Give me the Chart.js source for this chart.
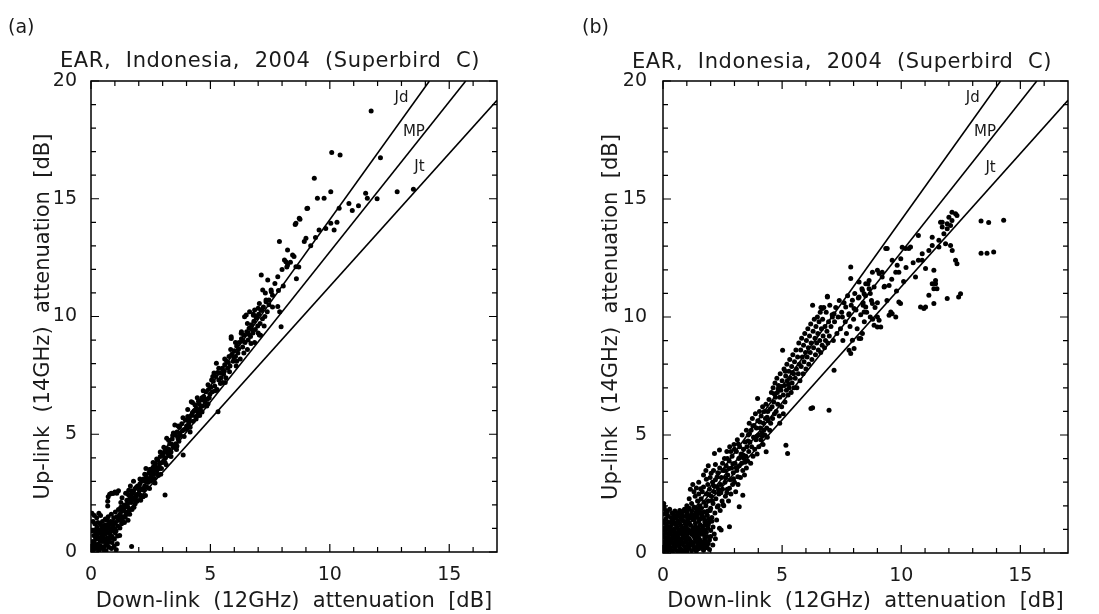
<!DOCTYPE html>
<html>
<head>
<meta charset="utf-8">
<script src="https://cdn.jsdelivr.net/npm/chart.js@4.4.1/dist/chart.umd.min.js"></script>
<style>
    body { margin: 0; background: #fff; width: 1099px; height: 614px; position: relative; overflow: hidden; }
    canvas { position: absolute; top: 0; }
    #chartA { left: 0; }
    #chartB { left: 550px; }
</style>
</head>
<body>
<canvas id="chartA" width="550" height="614"></canvas>
<canvas id="chartB" width="549" height="614"></canvas>
<script>
// EAR rain attenuation scatter, up-link vs down-link (two panels)

const chartTitle = 'EAR,  Indonesia,  2004  (Superbird  C)';
const xTitle = 'Down-link  (12GHz)  attenuation  [dB]';
const yTitle = 'Up-link  (14GHz)  attenuation  [dB]';

const xTickValues = [0, 5, 10, 15];
const yTickValues = [0, 5, 10, 15, 20];
const xMinorValues = [1, 2, 3, 4, 6, 7, 8, 9, 11, 12, 13, 14, 16];
const yMinorValues = [1, 2, 3, 4, 6, 7, 8, 9, 11, 12, 13, 14, 16, 17, 18, 19];

// frequency scaling lines (through origin), end points
const lineNames = ['Jd', 'MP', 'Jt'];
const lineJd = [[0, 0], [14.17, 20]];
const lineMP = [[0, 0], [15.69, 20]];
const lineJt = [[0, 0], [17, 19.18]];
const lineLabelX = [13.0, 13.52, 13.75];
const lineLabelY = [19.27, 17.85, 16.33];

// (a) measured points [down-link dB, up-link dB]
const pointsA = [
    [0.02,0.05],[0.05,0.2],[0.08,0.45],[0.1,0.1],[0.12,0.7],[0.15,0.35],[0.18,0.9],[0.2,0.15],[0.22,0.55],[0.25,1.05],
    [0.28,0.3],[0.3,0.8],[0.32,0.05],[0.35,0.6],[0.38,1.2],[0.4,0.25],[0.42,0.95],[0.45,0.45],[0.48,1.3],[0.5,0.75],
    [0.52,0.1],[0.55,1.0],[0.58,0.5],[0.6,1.4],[0.62,0.3],[0.65,0.85],[0.68,1.15],[0.7,0.6],[0.72,1.5],[0.75,0.2],
    [0.78,1.0],[0.8,1.3],[0.82,0.7],[0.85,1.6],[0.88,0.4],[0.9,1.15],[0.92,0.9],[0.95,1.45],[0.98,0.55],[1.0,1.25],
    [1.02,1.7],[1.05,0.9],[1.08,1.5],[1.1,0.35],[1.12,1.1],[1.15,1.8],[1.18,1.35],[1.2,0.7],[1.22,1.6],[1.25,1.9],
    [1.28,1.2],[1.3,1.75],[0.06,0.9],[0.09,1.3],[0.04,1.65],[0.14,1.55],[0.24,1.45],[0.33,1.65],[0.4,1.55],[0.16,1.2],
    [0.27,0.65],[0.36,0.15],[0.46,0.7],[0.57,0.9],[0.63,0.05],[0.74,0.45],[0.86,0.15],[0.97,0.25],[1.06,0.1],[0.03,0.35],
    [0.11,0.25],[0.19,0.6],[0.29,1.25],[0.39,0.5],[0.49,0.2],[0.59,1.15],[0.69,0.35],[0.79,0.8],[0.89,0.65],[0.99,1.0],
    [0.44,1.1],[0.54,0.45],[0.66,1.35],[0.76,1.2],[0.84,0.95],[0.94,1.2],[1.7,0.23],
    [0.13,0.42],[0.21,0.78],[0.31,0.33],[0.41,0.82],[0.51,0.58],[0.61,0.78],[0.71,1.02],[0.81,0.58],[0.91,1.02],[1.01,0.82],
    [1.11,0.68],[1.21,1.02],[1.33,1.32],[1.43,1.48],[0.34,0.92],[0.64,0.55],[0.87,1.28],[1.14,1.42],[0.23,0.18],[0.56,0.22],
    [0.7,2.15],[0.72,2.35],[0.78,2.45],[0.85,2.5],[0.92,2.48],[1.0,2.55],[1.08,2.5],[1.15,2.6],[0.7,1.95],
    [1.35,1.5],[1.4,2.0],[1.45,1.7],[1.5,2.2],[1.55,1.9],[1.6,2.4],[1.62,1.6],[1.68,2.1],[1.7,2.6],[1.75,2.3],
    [1.8,1.9],[1.85,2.7],[1.88,2.4],[1.92,2.15],[1.95,2.8],[2.0,2.5],[2.05,2.9],[2.08,2.2],[2.12,3.0],[2.15,2.65],
    [2.2,3.1],[2.25,2.8],[2.28,2.4],[2.32,3.2],[2.38,2.95],[2.42,3.35],[2.45,2.7],[2.5,3.5],[2.55,3.1],[2.6,3.6],
    [2.62,3.3],[2.68,2.93],[2.7,3.75],[2.75,3.45],[2.8,3.9],[2.85,3.6],[2.9,4.05],[2.92,3.3],[2.98,3.8],[3.1,2.42],
    [1.25,2.1],[1.3,2.3],[1.45,2.5],[1.2,1.45],[1.4,1.25],[1.55,1.35],[1.65,2.8],[1.78,3.0],[2.3,3.55],[2.18,2.35],
    [1.95,2.45],[1.72,1.8],[1.5,1.6],[2.02,2.75],[2.48,3.0],[2.58,3.35],[2.72,3.6],[2.88,3.75],
    [1.52,2.05],[1.63,2.25],[1.78,2.55],[1.9,2.35],[2.1,2.68],[2.22,2.62],[2.35,3.05],[2.52,3.22],[2.65,3.5],[2.78,3.3],
    [1.37,1.85],[1.58,2.62],[1.82,2.22],[2.03,2.62],[2.27,3.0],[2.44,3.1],[2.66,3.12],[2.83,3.52],[2.95,3.55],[1.47,1.98],
    [1.55,2.45],[1.7,2.45],[1.9,2.75],[2.05,3.1],[2.25,3.3],[2.45,3.5],[2.6,3.8],[2.75,3.95],[2.9,4.25],[1.6,1.75],
    [1.85,2.05],[2.1,2.4],[2.35,2.75],[2.6,3.05],[2.82,3.25],
    [3.0,4.1],[3.05,3.9],[3.1,4.3],[3.15,3.7],[3.17,4.83],[3.2,4.4],[3.25,4.1],[3.3,4.6],[3.35,4.25],[3.4,4.8],
    [3.45,4.45],[3.5,5.0],[3.51,5.39],[3.55,4.6],[3.6,5.1],[3.65,4.8],[3.7,5.3],[3.75,4.95],[3.8,5.45],[3.86,4.12],
    [3.9,5.2],[3.95,5.6],[4.0,5.35],[4.05,5.75],[4.1,5.5],[4.15,5.1],[4.2,6.38],[4.22,5.8],[4.28,5.55],[4.32,6.0],
    [4.38,5.75],[4.42,6.1],[4.48,5.9],[4.52,6.3],[4.58,6.05],[4.62,6.45],[4.68,6.2],[4.72,6.6],[4.78,6.35],[4.82,6.8],
    [4.88,6.5],[4.92,6.9],[4.98,6.7],[3.12,4.0],[3.42,4.95],[3.72,5.05],[4.02,5.6],[4.35,6.25],[4.65,6.55],[4.9,6.3],
    [4.55,5.8],[3.58,4.35],[3.07,4.22],[3.28,4.35],[3.38,4.58],[3.62,4.9],[3.83,5.15],[3.97,5.22],[4.12,5.65],[4.25,5.92],
    [4.45,6.0],[4.6,6.2],[4.75,6.48],[4.95,6.55],[3.22,4.2],[3.68,4.7],[4.08,5.4],[4.5,6.4],
    [3.05,4.45],[3.25,4.75],[3.45,5.05],[3.65,5.35],[3.85,5.7],[4.05,6.05],[4.25,6.35],[4.45,6.55],[4.7,6.85],[4.9,7.1],
    [3.1,3.8],[3.35,4.05],[3.6,4.5],[3.9,4.9],[4.15,5.3],[4.4,5.65],[4.65,5.95],[4.85,6.2],
    [5.02,7.0],[5.08,6.8],[5.12,7.25],[5.18,7.05],[5.22,7.45],[5.25,8.01],[5.28,6.9],[5.32,5.96],[5.35,7.3],[5.4,7.6],
    [5.45,7.4],[5.5,7.8],[5.55,7.55],[5.6,7.95],[5.62,7.2],[5.68,8.1],[5.72,7.8],[5.78,8.3],[5.82,7.9],[5.87,9.07],
    [5.9,8.4],[5.95,8.1],[6.0,8.55],[6.05,8.3],[6.1,8.75],[6.15,8.45],[6.2,8.9],[6.25,8.2],[6.3,9.05],[6.35,8.7],
    [6.4,9.2],[6.45,8.9],[6.5,10.06],[6.52,9.35],[6.58,9.0],[6.62,9.5],[6.68,9.15],[6.72,9.65],[6.78,9.3],[6.82,9.8],
    [6.88,9.45],[6.92,9.95],[6.98,9.6],[7.02,10.1],[7.08,9.7],[7.12,10.25],[7.18,9.9],[7.22,10.4],[7.28,10.0],[7.33,10.63],
    [7.38,10.2],[7.45,10.5],[6.55,8.6],[6.85,8.9],[7.1,9.2],[5.65,7.4],[6.08,7.9],[7.96,9.57],[5.87,9.14],[6.29,9.29],
    [7.05,9.21],[6.43,9.99],[6.85,10.28],[6.64,10.2],[5.15,7.6],[5.42,7.15],[5.58,7.68],[5.75,8.05],[5.98,8.25],[6.18,8.62],
    [6.38,8.95],[6.6,9.25],[6.75,9.45],[5.05,7.3],[5.3,7.62],
    [5.1,7.45],[5.35,7.8],[5.6,8.2],[5.85,8.6],[6.05,8.9],[6.3,9.35],[6.55,9.7],[6.8,10.05],[7.0,10.35],[5.2,6.85],
    [5.5,7.2],[5.8,7.65],[6.1,8.1],[6.4,8.45],[6.7,8.85],[7.0,9.3],[7.25,9.6],
    [6.8,10.1],[6.95,10.0],[7.05,10.55],[7.15,10.3],[7.3,11.0],[7.45,10.7],[7.55,11.05],[7.6,10.4],[7.7,11.4],[7.85,11.1],
    [7.82,10.42],[7.9,10.2],[7.13,11.76],[7.4,11.55],[7.82,11.69],[7.19,11.13],[7.54,11.13],[7.33,10.7],
    [8.0,12.0],[8.05,11.3],[8.1,12.4],[8.2,12.1],[8.35,12.3],[8.5,12.55],[8.7,12.1],[8.6,11.6],[7.6,10.9],
    [8.23,12.82],[8.44,12.61],[8.16,12.33],[8.23,12.19],[8.58,12.11],[7.89,13.18],[8.93,13.18],[9.0,13.32],
    [8.55,13.91],[8.75,14.13],[8.58,13.96],[8.72,14.17],[9.07,14.6],[9.04,14.59],[9.35,15.87],[9.48,15.02],[9.76,15.02],
    [10.04,15.3],[10.08,16.96],[10.43,16.86],[11.73,18.73],[12.12,16.74],[10.04,13.96],[10.18,13.67],[9.83,13.74],
    [9.55,13.67],[10.39,14.6],[10.8,14.8],[10.94,14.5],[11.2,14.7],[11.98,15.0],[11.5,15.23],[11.57,15.02],[12.82,15.3],
    [13.5,15.4],[9.2,13.0],[9.4,13.35],[10.3,14.0]
];

// (b) measured points [down-link dB, up-link dB]
const pointsB = [
    [0.02,0.05],[0.1,0.2],[0.2,0.1],[0.3,0.25],[0.4,0.05],[0.5,0.18],[0.6,0.08],[0.7,0.22],[0.8,0.12],[0.9,0.28],
    [1.0,0.06],[1.1,0.2],[1.2,0.1],[1.3,0.25],[1.4,0.08],[1.5,0.18],[1.6,0.3],[1.7,0.12],[1.8,0.22],[1.9,0.4],
    [0.05,0.45],[0.15,0.55],[0.25,0.4],[0.35,0.6],[0.45,0.38],[0.55,0.5],[0.65,0.42],[0.75,0.58],[0.85,0.45],[0.95,0.55],
    [1.05,0.38],[1.15,0.52],[1.25,0.45],[1.35,0.6],[1.45,0.4],[1.55,0.55],[1.65,0.48],[1.75,0.62],[1.85,0.7],[1.95,0.55],
    [0.02,0.75],[0.12,0.85],[0.22,0.68],[0.32,0.9],[0.42,0.72],[0.52,0.88],[0.62,0.7],[0.72,0.85],[0.82,0.75],[0.92,0.92],
    [1.02,0.7],[1.12,0.86],[1.22,0.78],[1.32,0.95],[1.42,0.74],[1.52,0.9],[1.62,0.8],[1.72,1.0],[1.82,0.88],[2.0,0.95],
    [0.06,1.05],[0.16,1.15],[0.26,0.98],[0.36,1.2],[0.46,1.02],[0.56,1.18],[0.66,1.0],[0.76,1.15],[0.86,1.05],[0.96,1.22],
    [1.06,1.0],[1.16,1.18],[1.26,1.08],[1.36,1.25],[1.46,1.05],[1.56,1.2],[1.66,1.12],[1.76,1.3],[1.9,1.2],[2.05,1.35],
    [0.03,1.35],[0.13,1.45],[0.23,1.3],[0.33,1.5],[0.43,1.32],[0.53,1.48],[0.63,1.35],[0.73,1.52],[0.83,1.38],[0.93,1.55],
    [1.03,1.4],[1.13,1.58],[1.23,1.45],[1.33,1.62],[1.43,1.5],[1.53,1.68],[1.63,1.55],[1.73,1.75],[1.85,1.6],[1.98,1.8],
    [0.08,1.65],[0.18,1.75],[0.38,1.7],[0.5,1.78],[0.6,1.62],[0.7,1.8],[0.8,1.68],[0.9,1.85],[1.0,1.72],[1.1,1.9],
    [1.2,1.78],[1.3,1.95],[0.28,1.85],[0.02,1.9],[0.03,2.1],[0.05,1.95],
    [0.15,0.3],[0.35,0.12],[0.55,0.32],[0.75,0.05],[0.95,0.15],[1.15,0.35],[1.35,0.15],[1.55,0.32],[1.75,0.35],[0.1,0.62],
    [0.3,0.52],[0.5,0.65],[0.7,0.48],[0.9,0.65],[1.1,0.6],[1.3,0.7],[1.5,0.65],[1.7,0.78],[0.2,0.82],[0.4,0.95],
    [0.6,0.82],[0.8,0.98],[1.0,0.85],[1.2,0.95],[1.4,0.88],[1.6,1.0],[0.1,1.25],[0.3,1.1],[0.5,1.28],[0.7,1.25],
    [0.9,1.32],[1.1,1.28],[1.3,1.4],[1.5,1.35],[1.7,1.48],[0.2,1.58],[0.4,1.45],[0.6,1.55],[0.8,1.6],[1.0,1.58],
    [1.2,1.65],[1.4,1.75],[2.09,0.34],[2.37,1.05],[2.2,0.6],[1.95,0.15],[2.44,0.97],[2.79,1.11],[3.2,1.96],[3.35,2.45],
    [0.07,0.28],[0.27,0.15],[0.47,0.27],[0.67,0.32],[0.87,0.06],[1.07,0.28],[1.27,0.33],[1.47,0.27],[1.67,0.22],[0.18,0.47],
    [0.38,0.45],[0.58,0.58],[0.78,0.38],[0.98,0.45],[1.18,0.43],[1.38,0.5],[1.58,0.42],[1.78,0.5],[0.08,0.95],[0.28,0.78],
    [0.48,0.8],[0.68,0.92],[0.88,0.82],[1.08,0.92],[1.28,0.85],[1.48,0.82],[1.68,0.9],[1.88,1.05],[0.18,1.05],[0.38,1.35],
    [0.58,1.08],[0.78,1.42],[0.98,1.12],[1.18,1.5],[1.38,1.1],[1.58,1.45],[1.78,1.2],[0.12,1.8],[0.45,1.62],[0.65,1.7],
    [0.85,1.78],[1.05,1.85],[1.25,1.55],[1.45,1.65],[1.65,1.7],[1.92,1.45],[2.1,1.1],[2.15,0.8],[1.85,0.3],[2.0,0.7],
    [1.8,2.0],[1.82,2.5],[1.85,1.6],[1.88,2.9],[1.9,2.2],[1.93,1.3],[1.95,2.7],[1.98,3.2],[2.0,1.9],[2.03,2.4],
    [2.05,1.5],[2.08,3.0],[2.1,2.1],[2.12,3.5],[2.15,2.6],[2.18,1.7],[2.2,3.1],[2.22,2.3],[2.25,1.4],[2.28,2.8],
    [2.3,3.4],[2.32,2.0],[2.35,2.5],[2.38,3.6],[2.4,1.8],[2.42,2.9],[2.45,3.2],[2.48,2.2],[2.5,2.7],[2.16,4.22],
    [2.37,4.36],[2.5,3.8],[1.6,2.3],[1.65,2.6],[1.55,2.0],[1.5,2.5],[1.7,2.8],[1.45,2.2],[1.4,1.9],[1.35,2.4],
    [1.75,1.4],[1.6,1.9],[1.2,2.1],[1.3,2.6],[1.1,2.3],[1.0,2.0],[1.15,2.7],[1.25,2.9],[1.4,2.75],[1.5,3.0],
    [1.7,3.3],[1.8,3.5],[1.9,3.7],[1.72,2.15],[1.92,2.48],[2.13,2.85],[2.27,3.22],[2.43,2.55],[1.58,2.72],[1.82,3.12],
    [2.02,3.38],[2.2,3.75],[2.33,2.68],[1.48,1.8],[1.65,1.55],[1.88,1.78],[2.28,1.95],[2.07,2.2],[2.52,2.05],
    [2.52,3.5],[2.55,2.0],[2.58,4.0],[2.6,3.0],[2.62,2.4],[2.65,3.7],[2.68,4.3],[2.7,2.7],[2.72,3.3],[2.75,2.2],
    [2.78,3.9],[2.79,2.74],[2.8,4.5],[2.82,3.1],[2.85,2.5],[2.88,3.6],[2.9,4.1],[2.92,2.9],[2.95,3.4],[2.98,4.6],
    [3.0,3.0],[3.02,3.8],[3.05,2.6],[3.08,4.3],[3.1,3.5],[3.12,4.8],[3.14,3.23],[3.15,2.9],[3.18,4.0],[3.2,3.7],
    [3.22,4.5],[3.25,3.2],[3.28,4.2],[3.3,3.8],[3.32,5.0],[3.35,3.5],[3.38,4.4],[3.4,4.0],[3.42,3.3],[3.45,4.7],
    [3.48,4.1],[3.5,5.2],[3.5,3.6],[2.6,3.5],[2.7,4.0],[2.85,4.3],[3.0,4.4],[2.63,3.18],[2.77,3.58],[2.93,3.78],
    [3.07,3.62],[3.23,4.05],[3.37,4.15],[2.68,2.55],[2.96,3.15],[3.16,4.62],[3.44,3.85],
    [3.52,4.5],[3.55,3.9],[3.58,5.0],[3.6,4.3],[3.62,5.5],[3.65,4.7],[3.68,3.8],[3.7,5.2],[3.72,4.5],[3.75,5.7],
    [3.78,4.1],[3.8,4.9],[3.82,5.4],[3.85,4.4],[3.88,5.9],[3.9,4.8],[3.92,5.3],[3.95,4.2],[3.97,6.55],[3.98,5.6],
    [4.0,5.0],[4.02,4.5],[4.05,6.0],[4.08,5.3],[4.1,4.8],[4.12,5.8],[4.15,5.1],[4.18,6.2],[4.2,4.6],[4.22,5.5],
    [4.25,6.0],[4.28,5.0],[4.3,5.7],[4.32,6.3],[4.33,4.29],[4.35,5.3],[4.38,4.9],[4.4,6.0],[4.42,5.6],[4.45,6.5],
    [4.48,5.2],[4.5,6.1],[3.63,5.05],[3.77,5.38],[3.93,4.95],[4.07,5.55],[4.23,5.2],[4.37,5.75],[3.57,4.75],[4.17,4.95],
    [4.52,5.5],[4.55,6.8],[4.58,6.2],[4.6,5.7],[4.62,7.0],[4.65,6.4],[4.68,5.9],[4.7,7.2],[4.72,6.6],[4.75,6.0],
    [4.78,7.4],[4.8,6.8],[4.82,6.3],[4.85,7.1],[4.88,5.8],[4.9,6.6],[4.92,7.6],[4.95,6.9],[4.98,6.2],[5.0,7.3],
    [5.02,8.59],[5.05,6.7],[5.08,7.8],[5.1,7.1],[5.12,6.4],[5.15,7.5],[5.16,4.57],[5.18,6.9],[5.2,8.0],[5.23,4.22],
    [5.22,7.3],[5.25,6.7],[5.28,7.7],[5.3,7.0],[5.32,8.2],[5.35,7.4],[5.38,6.8],[5.4,7.9],[5.42,7.2],[5.45,8.4],
    [5.48,7.6],[5.5,7.0],[4.9,5.5],[5.05,5.9],[4.67,6.75],[4.83,6.95],[4.97,7.05],[5.13,7.7],[5.27,7.15],[5.43,7.65],
    [5.52,8.1],[5.55,7.4],[5.58,8.6],[5.6,7.8],[5.62,7.0],[5.65,8.3],[5.68,7.6],[5.7,8.9],[5.72,8.0],[5.75,7.3],
    [5.78,8.6],[5.8,7.9],[5.82,9.1],[5.85,8.3],[5.88,7.6],[5.9,8.8],[5.92,8.1],[5.95,9.3],[5.98,8.5],[6.0,7.8],
    [6.02,9.0],[6.05,8.3],[6.08,9.5],[6.1,8.7],[6.12,8.0],[6.15,9.2],[6.18,8.5],[6.2,9.7],[6.21,6.12],[6.22,8.9],
    [6.25,8.2],[6.28,10.5],[6.28,6.15],[6.3,9.4],[6.32,8.7],[6.35,9.9],[6.38,9.1],[6.4,8.4],[6.42,9.6],[6.45,8.9],
    [6.48,10.0],[6.5,9.3],[6.52,8.6],[6.55,9.8],[6.58,9.0],[6.6,10.2],[6.62,8.5],[6.63,10.4],[6.65,9.5],[6.68,8.8],
    [6.69,10.36],[6.7,9.9],[6.72,9.2],[6.75,10.4],[6.78,8.7],[6.8,9.6],[6.82,9.0],[6.85,10.2],[6.88,9.4],[6.9,10.88],
    [6.97,6.05],[6.92,8.9],[6.95,9.8],[6.98,9.2],[7.0,10.5],[6.9,10.85],
    [7.05,9.6],[7.1,10.1],[7.15,9.0],[7.18,7.74],[7.2,9.8],[7.25,10.4],[7.3,9.3],[7.35,10.0],[7.4,10.7],[7.45,9.5],
    [7.5,10.2],[7.53,10.0],[7.55,9.0],[7.6,10.6],[7.65,9.8],[7.67,10.42],[7.7,9.3],[7.75,10.9],[7.8,10.1],[7.81,8.59],
    [7.85,9.6],[7.88,12.12],[7.88,11.63],[7.9,10.5],[7.95,10.71],[8.0,9.9],[8.05,11.0],[8.1,10.3],[8.15,9.5],[8.2,10.8],
    [8.23,9.09],[8.3,10.1],[8.35,11.2],[8.37,11.13],[8.4,10.5],[8.45,9.8],[8.5,10.9],[8.55,10.2],[8.6,11.4],[8.65,11.55],
    [8.7,10.0],[8.75,10.7],[8.8,9.9],[8.86,11.27],[8.86,9.65],[8.9,10.4],[9.0,10.0],[9.0,9.58],[9.07,11.84],[9.07,9.86],
    [9.14,9.58],[9.2,11.9],[7.18,10.14],[8.37,9.3],[8.3,9.09],[7.95,9.01],[8.02,8.66],[7.88,8.45],[9.62,10.14],
    [8.79,11.9],[9.0,11.98],[9.2,11.69],[8.51,11.41],[8.23,11.48],[8.65,11.2],[8.44,10.99],[8.23,10.85],[8.02,10.36],
    [7.81,10.14],[8.51,10.42],[8.44,10.21],[8.79,10.57],[7.11,10.0],
    [8.4,10.6],[8.7,11.0],[9.0,10.6],[9.3,11.3],[9.6,11.6],[9.9,11.9],[10.2,12.1],[10.5,12.3],[9.4,10.7],[9.8,11.1],
    [10.1,11.5],[9.9,10.64],[9.77,10.0],[9.56,10.21],[9.49,10.07],[9.97,10.57],
    [9.41,12.9],[9.35,12.9],[10.04,12.96],[10.32,12.9],[9.62,12.4],[9.83,12.19],[10.72,13.45],[10.39,12.97],[10.18,12.9],
    [9.98,12.47],[9.77,11.9],[9.49,11.34],[9.28,11.27],[10.72,12.4],[10.88,12.68],[11.16,12.82],[11.58,13.25],[11.79,13.53],
    [11.93,13.74],[12.13,14.09],[12.34,14.3],[10.88,12.4],[11.02,12.05],[11.37,11.98],[11.44,11.41],[11.5,11.2],[10.6,11.7],
    [11.16,10.92],[11.37,10.57],[11.02,10.42],[10.95,10.36],[10.81,10.42],[11.93,10.78],[12.41,10.85],[12.49,10.99],
    [11.3,11.41],[11.37,11.2],[11.44,11.55],[12.28,12.4],[12.34,12.26],[12.07,13.03],[12.14,12.82],[11.86,13.1],[11.58,12.97],
    [11.3,13.03],[11.3,13.38],[11.65,14.02],[11.72,13.81],[11.93,13.95],[12.0,14.23],[12.13,14.44],[12.28,14.37],[12.07,13.88],
    [11.72,14.02],[14.3,14.1],[13.35,14.07],[13.67,14.0],[13.35,12.7],[13.6,12.7],[13.88,12.75]
];

const textColor = '#1a1a1a';
const fontFamily = "'DejaVu Sans', 'Liberation Sans', sans-serif";

const toXY = pts => pts.map(([x, y]) => ({ x: x, y: y }));

// frame, inward ticks on all four sides, line labels, title and panel tag
const panelDecor = {
    id: 'panelDecor',
    afterDatasetsDraw(chart, args, opts) {
        const { ctx, chartArea: a, scales: { x, y } } = chart;
        ctx.save();
        ctx.strokeStyle = '#000';
        ctx.lineWidth = 1.5;
        ctx.strokeRect(a.left, a.top, a.right - a.left, a.bottom - a.top);

        ctx.lineWidth = 1.2;
        ctx.beginPath();
        const xTicks = (vals, len) => vals.forEach(v => {
            const px = x.getPixelForValue(v);
            ctx.moveTo(px, a.bottom); ctx.lineTo(px, a.bottom - len);
            ctx.moveTo(px, a.top); ctx.lineTo(px, a.top + len);
        });
        const yTicks = (vals, len) => vals.forEach(v => {
            const py = y.getPixelForValue(v);
            ctx.moveTo(a.left, py); ctx.lineTo(a.left + len, py);
            ctx.moveTo(a.right, py); ctx.lineTo(a.right - len, py);
        });
        xTicks(xTickValues, 8);
        xTicks(xMinorValues, 5);
        yTicks(yTickValues, 8);
        yTicks(yMinorValues, 5);
        ctx.stroke();

        ctx.fillStyle = textColor;
        ctx.font = '15px ' + fontFamily;
        ctx.textAlign = 'center';
        ctx.textBaseline = 'middle';
        lineNames.forEach((name, i) => {
            ctx.fillText(name, x.getPixelForValue(lineLabelX[i]), y.getPixelForValue(lineLabelY[i]));
        });

        ctx.textAlign = 'left';
        ctx.textBaseline = 'alphabetic';
        ctx.font = '21px ' + fontFamily;
        ctx.letterSpacing = '0.6px';
        ctx.fillText(chartTitle, opts.titleX, opts.titleY);
        ctx.letterSpacing = '0px';
        ctx.font = '19px ' + fontFamily;
        ctx.fillText(opts.tag, opts.tagX, opts.tagY);
        ctx.restore();
    }
};

function createPanel(canvasId, points, box) {
    const lines = [lineJd, lineMP, lineJt];
    return new Chart(document.getElementById(canvasId), {
        type: 'scatter',
        data: {
            datasets: [{
                label: 'attenuation',
                data: toXY(points),
                backgroundColor: '#000',
                borderWidth: 0,
                pointRadius: 2.5
            }].concat(lines.map((line, i) => ({
                label: lineNames[i],
                data: toXY(line),
                showLine: true,
                borderColor: '#000',
                borderWidth: 1.6,
                pointRadius: 0,
                fill: false
            })))
        },
        options: {
            responsive: false,
            animation: false,
            devicePixelRatio: 1,
            layout: { padding: { left: 0, right: box.padRight, top: 81, bottom: 0 } },
            plugins: {
                legend: { display: false },
                tooltip: { enabled: false },
                panelDecor: box.decor
            },
            scales: {
                x: {
                    type: 'linear',
                    min: 0,
                    max: 17,
                    grid: { display: false, drawTicks: false },
                    border: { display: false },
                    afterBuildTicks: axis => { axis.ticks = xTickValues.map(v => ({ value: v })); },
                    afterFit: axis => { axis.height = box.xAxisHeight; },
                    ticks: { color: textColor, padding: 12, maxRotation: 0, font: { family: fontFamily, size: 19 } },
                    title: {
                        display: true,
                        text: xTitle,
                        color: textColor,
                        padding: { top: 0, bottom: 0 },
                        font: { family: fontFamily, size: 21 }
                    }
                },
                y: {
                    type: 'linear',
                    min: 0,
                    max: 20,
                    grid: { display: false, drawTicks: false },
                    border: { display: false },
                    afterBuildTicks: axis => { axis.ticks = yTickValues.map(v => ({ value: v })); },
                    afterFit: axis => { axis.width = box.yAxisWidth; },
                    ticks: { color: textColor, padding: box.tickPad, font: { family: fontFamily, size: 19 } },
                    title: {
                        display: true,
                        text: yTitle,
                        color: textColor,
                        padding: { top: box.yTitlePad, bottom: 0 },
                        font: { family: fontFamily, size: 21 }
                    }
                }
            }
        },
        plugins: [panelDecor]
    });
}

createPanel('chartA', pointsA, {
    padRight: 53, xAxisHeight: 62, yAxisWidth: 91, tickPad: 14, yTitlePad: 31,
    decor: { titleX: 60, titleY: 67, tag: '(a)', tagX: 8, tagY: 33 }
});

createPanel('chartB', pointsB, {
    padRight: 31, xAxisHeight: 61, yAxisWidth: 113, tickPad: 16, yTitlePad: 49,
    decor: { titleX: 82, titleY: 68, tag: '(b)', tagX: 32, tagY: 33 }
});
</script>
</body>
</html>
